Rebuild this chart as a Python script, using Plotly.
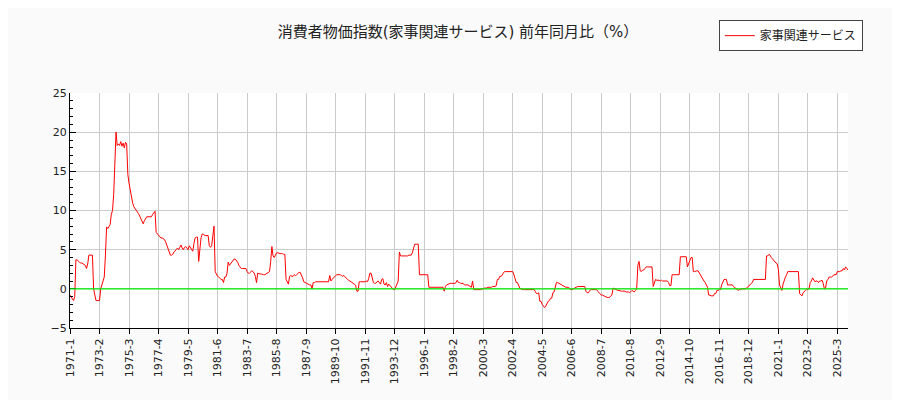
import plotly.graph_objects as go

# 家事関連サービス 前年同月比(%), monthly from 1971-1
start_year = 1971
yoy_1971_1980 = [
    -0.8, -1.0, -1.3, -1.5, -1.0, 3.7, 3.7, 3.5, 3.4, 3.3, 3.3, 3.2,
    3.1, 3.0, 2.6, 3.2, 4.3, 4.3, 4.3, 4.3, 0.0, -1.0, -1.5, -1.5,
    -1.5, -1.5, 0.0, 0.5, 1.0, 1.5, 4.2, 7.9, 7.7, 8.0, 8.2, 9.5,
    10.0, 12.0, 16.0, 20.0, 18.3, 18.5, 18.3, 18.8, 18.2, 18.6, 18.0, 18.7,
    18.5, 14.6, 13.5, 12.5, 11.5, 11.0, 10.5, 10.3, 10.1, 9.9, 9.6, 9.3,
    9.0, 8.6, 8.3, 8.7, 8.9, 9.2, 9.2, 9.2, 9.2, 9.2, 9.5, 9.8,
    9.9, 7.2, 7.0, 6.8, 6.6, 6.5, 6.5, 6.4, 6.3, 6.0, 5.5, 5.2,
    4.6, 4.3, 4.3, 4.4, 4.7, 4.8, 5.0, 5.2, 5.0, 5.3, 5.6, 5.2,
    5.0, 5.3, 5.4, 5.2, 5.0, 5.5, 5.2, 5.0, 4.8, 5.8, 6.5, 6.6,
    6.6, 3.5, 5.5, 6.5, 7.0, 7.0, 6.8, 6.8, 6.8, 6.8, 5.5, 5.3,
]
yoy_1981_1990 = [
    5.5, 7.0, 8.0, 2.2, 1.8, 1.6, 1.5, 1.3, 1.2, 1.2, 0.8, 1.5,
    1.5, 2.0, 3.4, 3.0, 3.2, 3.3, 3.5, 3.8, 3.8, 3.6, 3.4, 3.0,
    2.8, 2.6, 2.6, 2.6, 2.6, 2.6, 2.2, 2.0, 2.0, 2.2, 2.3, 2.2,
    2.0, 1.6, 0.8, 2.0, 1.9, 1.9, 1.9, 1.8, 1.8, 1.8, 1.9, 2.0,
    2.1, 2.2, 3.5, 5.4, 4.2, 4.0, 4.3, 4.6, 4.6, 4.5, 4.5, 4.5,
    4.5, 4.4, 4.4, 1.2, 0.9, 0.6, 1.6, 1.7, 1.6, 1.6, 1.8, 1.7,
    1.8, 2.0, 2.1, 2.1, 1.8, 1.4, 0.9, 0.8, 0.7, 0.6, 0.6, 0.5,
    0.5, 0.0, 0.8, 0.8, 0.9, 0.9, 0.9, 0.9, 0.9, 0.9, 0.9, 0.9,
    0.9, 0.9, 0.9, 0.9, 1.7, 1.0, 1.2, 1.4, 1.6, 1.7, 1.8, 1.8,
    1.8, 1.8, 1.7, 1.6, 1.7, 1.5, 1.3, 1.2, 1.1, 1.0, 0.9, 0.9,
]
yoy_1991_2000 = [
    0.8, 0.6, 0.4, -0.3, -0.3, 0.9, 0.9, 0.9, 0.9, 0.9, 0.9, 1.0,
    0.9, 1.3, 2.0, 2.0, 1.5, 0.8, 0.7, 0.7, 0.9, 1.0, 0.8, 0.6,
    1.2, 1.3, 0.6, 0.5, 0.8, 0.3, 0.6, 0.4, 0.2, 0.1, -0.1, -0.1,
    0.2, 0.5, 1.0, 4.7, 4.2, 4.2, 4.2, 4.2, 4.2, 4.2, 4.2, 4.3,
    4.3, 4.3, 4.6, 5.2, 5.7, 5.7, 5.7, 5.7, 1.8, 1.8, 1.8, 1.8,
    1.8, 1.8, 1.8, 1.8, 0.2, 0.2, 0.2, 0.2, 0.2, 0.2, 0.2, 0.2,
    0.2, 0.2, 0.2, 0.2, 0.2, -0.3, 0.3, 0.5, 0.6, 0.7, 0.7, 0.7,
    0.7, 0.7, 0.7, 0.8, 1.1, 0.8, 0.8, 0.7, 0.7, 0.7, 0.5, 0.5,
    0.5, 0.5, 0.4, 0.3, 0.2, 1.0, -0.1, -0.1, -0.1, -0.1, -0.1, -0.1,
    -0.1, 0.0, 0.0, 0.1, 0.1, 0.1, 0.2, 0.2, 0.2, 0.2, 0.3, 0.3,
]
yoy_2001_2010 = [
    0.3, 0.4, 1.2, 1.2, 1.6, 1.6, 1.7, 2.0, 2.2, 2.2, 2.2, 2.2,
    2.2, 2.2, 2.2, 2.2, 1.8, 1.3, 0.8, 0.8, 0.4, 0.1, 0.0, -0.1,
    -0.1, -0.1, -0.1, -0.1, -0.1, -0.1, -0.1, -0.1, -0.1, -0.1, -0.3, -0.6,
    -0.6, -0.5, -1.6, -1.6, -2.0, -2.2, -2.4, -2.2, -1.8, -1.6, -1.5, -1.2,
    -1.2, -0.5, -0.4, 0.3, 0.8, 0.8, 0.7, 0.7, 0.6, 0.5, 0.3, 0.2,
    0.2, 0.2, 0.2, 0.1, -0.1, -0.1, 0.0, 0.0, 0.1, 0.2, 0.3, 0.3,
    0.3, 0.3, 0.3, 0.3, 0.3, -0.3, -0.5, -0.5, -0.2, -0.1, -0.1, -0.1,
    -0.1, -0.1, -0.1, -0.3, -0.5, -0.6, -0.8, -0.8, -0.9, -1.0, -1.0, -1.1,
    -1.1, -1.1, -0.9, -0.8, 0.1, 0.0, -0.1, -0.2, -0.2, -0.2, -0.3, -0.3,
    -0.3, -0.3, -0.3, -0.4, -0.4, -0.4, -0.5, -0.3, -0.2, -0.3, -0.4, -0.2,
]
yoy_2011_2020 = [
    0.0, 3.0, 3.5, 2.3, 2.2, 2.4, 2.4, 2.6, 2.8, 2.8, 2.8, 2.8,
    2.8, 2.8, 0.3, 0.8, 1.2, 1.1, 1.1, 1.1, 1.0, 1.1, 1.0, 1.0,
    1.0, 1.0, 1.0, 0.8, 0.4, 0.4, 1.8, 1.8, 1.8, 1.8, 1.8, 1.8,
    1.8, 4.1, 4.1, 4.1, 4.1, 4.1, 4.1, 2.8, 3.3, 3.7, 4.0, 4.0,
    2.2, 2.2, 2.3, 2.3, 2.3, 2.0, 1.8, 1.5, 1.2, 1.0, 0.8, 0.4,
    0.2, -0.8, -0.8, -0.9, -0.9, -0.9, -0.6, -0.6, -0.2, -0.2, -0.1, -0.1,
    0.5, 0.8, 1.2, 1.2, 1.2, 0.5, 0.5, 0.5, 0.5, 0.5, 0.3, 0.2,
    0.1, -0.1, -0.2, -0.1, -0.1, 0.0, 0.0, 0.0, 0.0, 0.1, 0.2, 0.4,
    0.5, 0.7, 0.8, 1.2, 1.2, 1.2, 1.2, 1.2, 1.2, 1.2, 1.2, 1.2,
    1.2, 1.2, 4.2, 4.2, 4.4, 4.3, 4.0, 3.8, 3.6, 3.4, 3.3, 3.2,
]
yoy_2021_2025 = [
    2.5, 0.5, 0.0, -0.2, 0.6, 1.2, 1.5, 1.8, 2.2, 2.2, 2.2, 2.2,
    2.2, 2.2, 2.2, 2.2, 2.2, 2.2, -0.6, -0.7, -0.9, -0.5, -0.3, -0.2,
    -0.1, 0.0, 0.0, 0.8, 1.0, 1.4, 1.2, 0.9, 1.0, 1.0, 0.8, 1.0,
    1.0, 1.1, 0.7, 0.0, 0.1, 1.0, 1.2, 1.5, 1.5, 1.5, 1.6, 1.8,
    1.8, 1.8, 2.2, 2.2, 2.2, 2.3, 2.3, 2.6, 2.4, 2.8, 2.5, 2.4,
]

values = (yoy_1971_1980 + yoy_1981_1990 + yoy_1991_2000
          + yoy_2001_2010 + yoy_2011_2020 + yoy_2021_2025)
labels = [f"{start_year + i // 12}-{i % 12 + 1}" for i in range(len(values))]
idx = list(range(len(values)))
tick_idx = idx[::25]

fig = go.Figure()
fig.add_trace(go.Scatter(x=idx, y=values, mode="lines", name="家事関連サービス",
                         line=dict(color="#ff0000", width=1)))
fig.add_hline(y=0, line=dict(color="#00ee00", width=1.2))

fig.update_layout(
    width=900, height=400,
    title=dict(text="消費者物価指数(家事関連サービス) 前年同月比（%）", x=0.5, y=0.955,
               font=dict(size=15, color="#222")),
    font=dict(family="DejaVu Sans, Noto Sans CJK JP, sans-serif", size=11, color="#222"),
    paper_bgcolor="#fafafa", plot_bgcolor="white",
    margin=dict(l=62, r=60, t=80, b=80),
    showlegend=True,
    legend=dict(x=1.019, y=1.31, xanchor="right", yanchor="top",
                bordercolor="#444", borderwidth=1, bgcolor="white",
                font=dict(size=12)),
)
fig.update_xaxes(range=[0, len(values) - 1], tickvals=tick_idx,
                 ticktext=[labels[i] for i in tick_idx], tickangle=-90,
                 ticks="outside", ticklen=5, tickcolor="black", automargin=False,
                 showgrid=True, gridcolor="#cccccc", zeroline=False,
                 showline=True, linecolor="black")
fig.update_yaxes(range=[-5, 25], dtick=5, ticks="inside", ticklen=6,
                 tickcolor="black", showgrid=True, gridcolor="#cccccc", automargin=False,
                 zeroline=False, showline=True, linecolor="black",
                 minor=dict(dtick=1, ticks="inside", ticklen=3, tickcolor="black",
                            showgrid=False))

fig.write_html("out.html")
